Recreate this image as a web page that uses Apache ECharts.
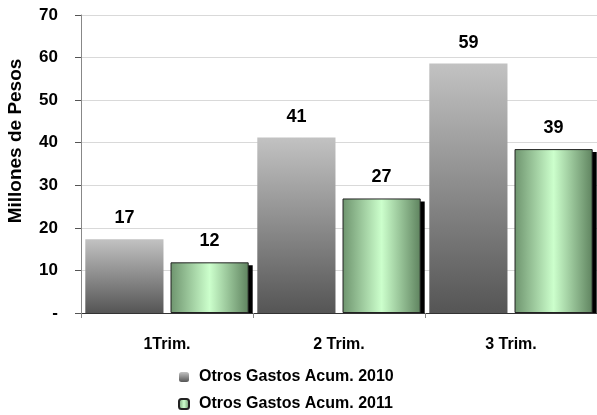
<!DOCTYPE html>
<html><head><meta charset="utf-8">
<script src="https://cdn.jsdelivr.net/npm/echarts@6/dist/echarts.min.js"></script>
<style>html,body{margin:0;padding:0;background:#fff}#c{width:597px;height:415px}</style>
</head><body><div id="c"></div>
<script>
var categories = ['1Trim.', '2 Trim.', '3 Trim.'];
var seriesNames = ['Otros Gastos Acum. 2010', 'Otros Gastos Acum. 2011'];
var values2010 = [17.3, 41.2, 58.6];
var values2011 = [11.9, 26.9, 38.5];
var yTicks = { min: 0, max: 70, interval: 10 };
var yTitle = 'Millones de Pesos';

var font = 'Liberation Sans, Arial, sans-serif';
var BAR_GAP = 0.09, CAT_GAP = 0.05;
var grayGrad = new echarts.graphic.LinearGradient(0, 0, 0, 1, [
  { offset: 0, color: '#c2c2c2' }, { offset: 1, color: '#555555' }]);
var greenGrad = new echarts.graphic.LinearGradient(0, 0, 1, 0, [
  { offset: 0, color: '#6e946e' }, { offset: 0.5, color: '#ccffcc' }, { offset: 1, color: '#5f835f' }]);

function shadowItem(params, api) {
  var idx = api.value(0);
  var val = api.value(1);
  var base = api.coord([idx, 0]);
  var top = api.coord([idx, val]);
  var W = api.size([1, 0])[0];
  var avail = W * (1 - CAT_GAP);
  var bw = avail / (2 + BAR_GAP);
  var x0 = base[0] - avail / 2 + bw * (1 + BAR_GAP);
  return {
    type: 'rect',
    shape: { x: x0 + 4, y: top[1] + 3, width: bw, height: base[1] - top[1] - 3 },
    style: { fill: '#000' },
    z2: 0
  };
}

var chart = echarts.init(document.getElementById('c'));
chart.setOption({
  animation: false,
  backgroundColor: '#ffffff',
  textStyle: { fontFamily: font },
  grid: { left: 81, top: 15, width: 521, bottom: 102, containLabel: false },
  graphic: [{
    type: 'text', x: 16, y: 141, rotation: Math.PI / 2,
    style: { text: yTitle, fontFamily: font, fontWeight: 'bold', fontSize: 19, fill: '#000',
      align: 'center', verticalAlign: 'middle' }
  }],
  legend: {
    orient: 'vertical', left: 178, top: 369, height: 48, padding: 0,
    itemWidth: 10, itemHeight: 10, itemGap: 11,
    textStyle: { fontFamily: font, fontWeight: 'bold', fontSize: 16, color: '#000', padding: [0, 0, 0, 5] },
    data: seriesNames
  },
  xAxis: {
    type: 'category', data: categories,
    axisLine: { lineStyle: { color: '#333', width: 1 } },
    axisTick: { show: true, length: 5, lineStyle: { color: '#888' } },
    axisLabel: { fontFamily: font, fontWeight: 'bold', fontSize: 16, color: '#000', margin: 24 }
  },
  yAxis: {
    type: 'value', min: yTicks.min, max: yTicks.max, interval: yTicks.interval,
    axisLine: { show: true, lineStyle: { color: '#888' } },
    axisTick: { show: true, length: 6, lineStyle: { color: '#555' } },
    axisLabel: { fontFamily: font, fontWeight: 'bold', fontSize: 17, color: '#000', margin: 23,
      formatter: function (v) { return v === 0 ? '-' : String(v); } },
    splitLine: { lineStyle: { color: '#d9d9d9', width: 1 } }
  },
  series: [
    {
      name: seriesNames[0], type: 'bar', data: values2010,
      barGap: (BAR_GAP * 100) + '%', barCategoryGap: (CAT_GAP * 100) + '%',
      itemStyle: { color: grayGrad },
      label: { show: true, position: 'top', distance: 12, fontFamily: font, fontWeight: 'bold', fontSize: 18, color: '#000',
        formatter: function (p) { return Math.round(p.value); } },
      z: 3
    },
    {
      name: seriesNames[1], type: 'bar', data: values2011,
      barGap: (BAR_GAP * 100) + '%', barCategoryGap: (CAT_GAP * 100) + '%',
      itemStyle: { color: greenGrad, borderColor: '#222', borderWidth: 1 },
      label: { show: true, position: 'top', distance: 12, fontFamily: font, fontWeight: 'bold', fontSize: 18, color: '#000',
        formatter: function (p) { return Math.round(p.value); } },
      z: 3
    },
    {
      name: 'shadow', type: 'custom', renderItem: shadowItem,
      data: values2011.map(function (v, i) { return [i, v]; }),
      encode: { x: 0, y: 1 }, z: 2, silent: true, clip: true
    }
  ]
});
</script></body></html>
